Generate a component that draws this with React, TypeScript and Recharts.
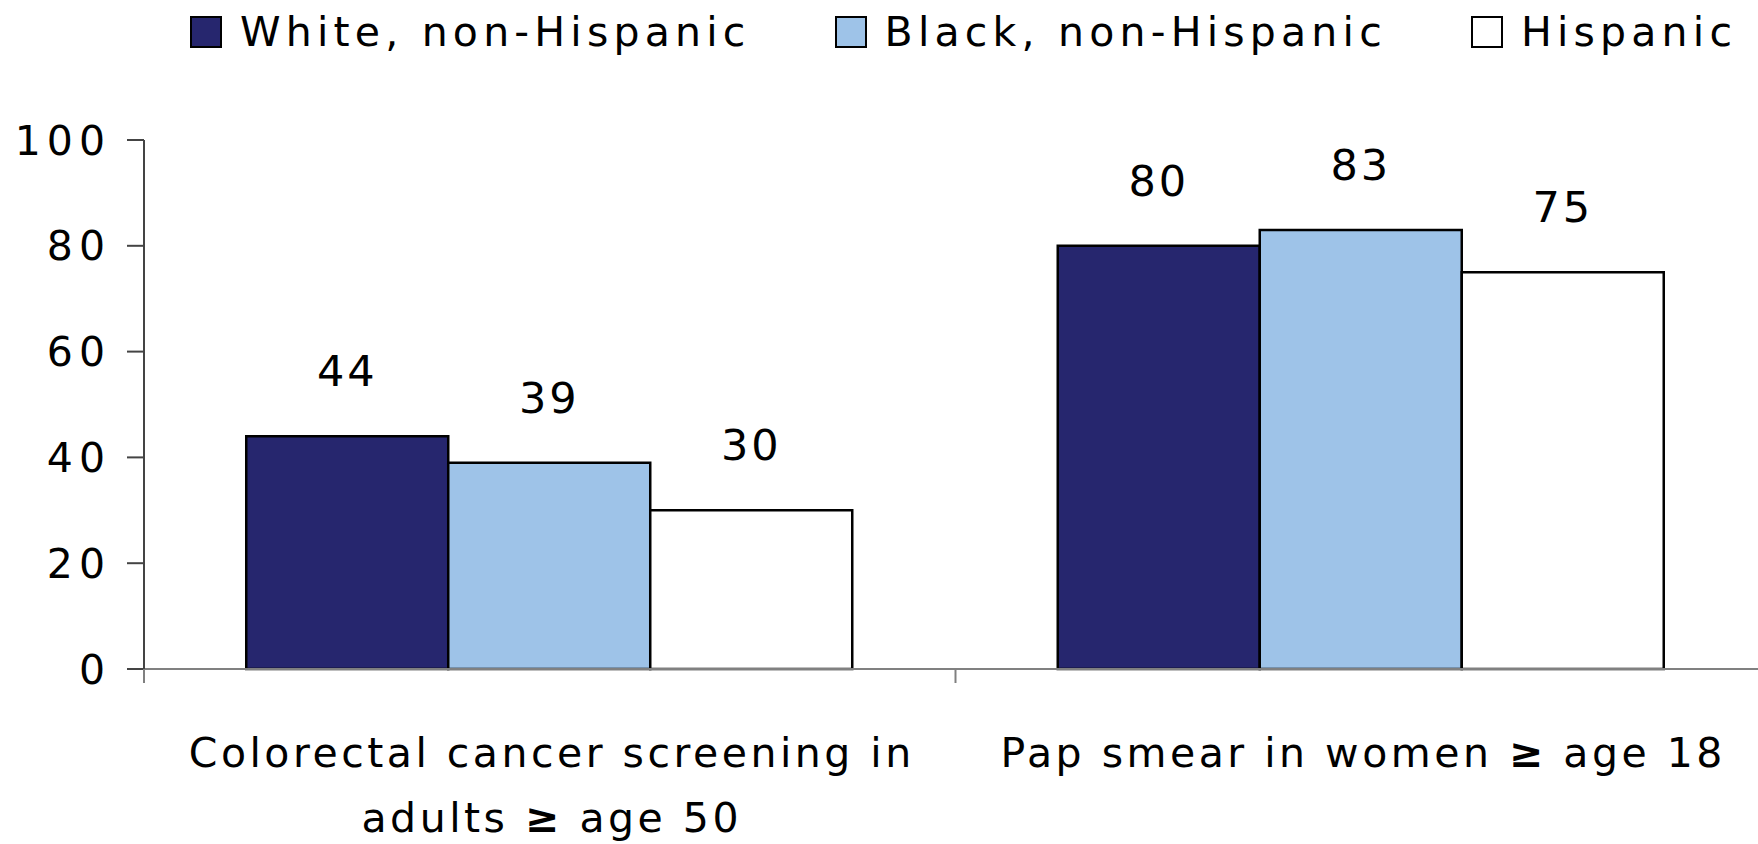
import { BarChart, Bar, XAxis, YAxis, Legend, LabelList } from "recharts"

const categories = ["Colorectal cancer screening in adults ≥ age 50", "Pap smear in women ≥ age 18"]
const seriesNames = ["White, non-Hispanic", "Black, non-Hispanic", "Hispanic"]
const seriesColors = ["#26266E", "#9EC3E8", "#FFFFFF"]
const whiteNonHispanic = [44, 80]
const blackNonHispanic = [39, 83]
const hispanic = [30, 75]
const yTicks = [0, 20, 40, 60, 80, 100]

const data = categories.map((name, i) => ({
  name,
  white: whiteNonHispanic[i],
  black: blackNonHispanic[i],
  hispanic: hispanic[i],
}))
const keys = ["white", "black", "hispanic"]

const FONT = "DejaVu Sans"
const CHART_W = 1767
const CHART_H = 844
const Y_AXIS_W = 144
const BAND = (CHART_W - Y_AXIS_W) / categories.length

function wrap(text: string, max: number) {
  const lines: string[] = []
  let cur = ""
  for (const w of text.split(" ")) {
    if (cur && (cur + " " + w).length > max) {
      lines.push(cur)
      cur = w
    } else {
      cur = cur ? cur + " " + w : w
    }
  }
  if (cur) lines.push(cur)
  return lines
}

function CategoryTick(props: any) {
  const { x, y, payload, index } = props
  const lines = wrap(payload.value, 30)
  return (
    <g>
      <line x1={x - BAND / 2} x2={x - BAND / 2} y1={y} y2={y + 14} stroke="#808080" strokeWidth={2} />
      {index === categories.length - 1 && (
        <line x1={x + BAND / 2} x2={x + BAND / 2} y1={y} y2={y + 14} stroke="#808080" strokeWidth={2} />
      )}
      {lines.map((line, i) => (
        <text
          key={i}
          x={x + 2}
          y={y + 98 + i * 65}
          textAnchor="middle"
          fontFamily={FONT}
          fontSize={41}
          letterSpacing={3.5}
          fill="#000"
        >
          {line.split("≥").map((part, j) => (
            <tspan key={j}>
              {j > 0 && <tspan fontWeight="bold">≥</tspan>}
              {part}
            </tspan>
          ))}
        </text>
      ))}
    </g>
  )
}

function LegendContent() {
  return (
    <div
      style={{
        display: "flex",
        alignItems: "center",
        height: 64,
        paddingLeft: 190,
        fontFamily: FONT,
        fontSize: 41,
        letterSpacing: 5.2,
        color: "#000",
        whiteSpace: "nowrap",
      }}
    >
      {seriesNames.map((n, i) => (
        <div key={n} style={{ display: "flex", alignItems: "center", marginRight: 84 }}>
          <span
            style={{
              display: "inline-block",
              width: 32,
              height: 32,
              boxSizing: "border-box",
              border: "2.5px solid #000",
              background: seriesColors[i],
            }}
          />
          <span style={{ marginLeft: 18 }}>{n}</span>
        </div>
      ))}
    </div>
  )
}

export default function App() {
  return (
    <div style={{ position: "absolute", left: 0, top: 0, width: 1758, height: 844, overflow: "hidden", background: "#fff" }}>
      <BarChart
        width={CHART_W}
        height={CHART_H}
        data={data}
        margin={{ top: 76, right: 0, left: 0, bottom: 0 }}
        barCategoryGap="12.6%"
        barGap={0}
      >
        <Legend
          verticalAlign="top"
          align="left"
          content={<LegendContent />}
          wrapperStyle={{ top: 0, left: 0, width: CHART_W }}
        />
        <XAxis
          dataKey="name"
          height={175}
          axisLine={{ stroke: "#808080", strokeWidth: 2 }}
          tickLine={false}
          tickSize={0}
          tickMargin={0}
          tick={<CategoryTick />}
          interval={0}
        />
        <YAxis
          width={Y_AXIS_W}
          domain={[0, 100]}
          ticks={yTicks}
          axisLine={{ stroke: "#444", strokeWidth: 2 }}
          tickLine={{ stroke: "#444", strokeWidth: 2 }}
          tickSize={17}
          tickMargin={16}
          tick={{ fontFamily: FONT, fontSize: 41, fill: "#000", letterSpacing: 6 }}
        />
        {keys.map((k, i) => (
          <Bar key={k} dataKey={k} name={seriesNames[i]} fill={seriesColors[i]} stroke="#000" strokeWidth={2.5} isAnimationActive={false}>
            <LabelList
              dataKey={k}
              position="top"
              offset={50}
              style={{ fontFamily: FONT, fontSize: 43, fill: "#000", letterSpacing: 3 }}
            />
          </Bar>
        ))}
      </BarChart>
    </div>
  )
}
